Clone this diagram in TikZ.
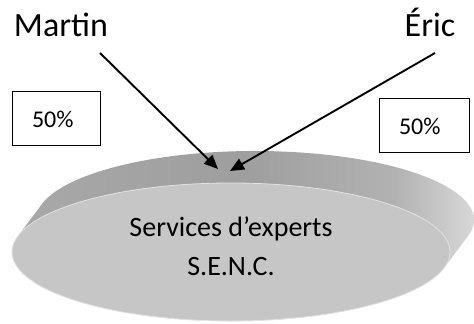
\documentclass[tikz,border=0pt]{standalone}
\usepackage{fontspec}
\setmainfont{Carlito}
\usetikzlibrary{positioning, arrows.meta, calc}
\usepackage{xcolor}
\definecolor{facegray}{HTML}{C6C6C6}
\definecolor{rimdark}{HTML}{9E9E9E}
\definecolor{rimleft}{HTML}{AAAAAA}
\definecolor{rimmid}{HTML}{B2B2B2}
\definecolor{rimright}{HTML}{E2E2E2}
\pgfdeclarehorizontalshading{rimshade}{100bp}{color(0bp)=(rimleft); color(25bp)=(rimleft); color(50bp)=(rimdark); color(65bp)=(rimmid); color(75bp)=(rimright); color(100bp)=(rimright)}

\begin{document}
\begin{tikzpicture}[
    x=1pt, y=1pt,
    every node/.style={font=\fontsize{28}{39}\selectfont},
    namelbl/.style={anchor=base, inner sep=0pt, font=\fontsize{34}{40}\selectfont},
    pctbox/.style={draw, line width=1pt, text width=48pt, align=left, inner xsep=20pt, minimum height=54pt, font=\fontsize{24}{28}\selectfont},
    face/.style={fill=facegray, draw=gray!22, line width=0.8pt},
    rim/.style={shading=rimshade},
    arr/.style={-{Triangle[length=14pt, width=12pt]}, line width=1.9pt},
]
\useasboundingbox (0,0) rectangle (474,324);

% Disc: rim behind, face in front
\coordinate (disc) at (231,72);
\coordinate (disctop) at ($(disc)+(24,32)$);
\shade[rim] (disctop) ++(-13.3:219 and 69)
    arc[start angle=-13.3, end angle=166.7, x radius=219, y radius=69]
    -- ++(-24,-32)
    arc[start angle=166.7, end angle=346.7, x radius=219, y radius=69] -- cycle;
\draw[face] (disc) ellipse[x radius=219, y radius=69];
\node[align=center, anchor=base, inner sep=0pt] (senc) at (231,48) {Services d’experts\\S.E.N.C.};

% Partners and shares
\node[namelbl] (martin) at (61,287) {Martin};
\node[namelbl] (eric) at (430,287) {Éric};
\node[pctbox, minimum width=88pt] (lpct) at (56,205) {50\%};
\node[pctbox, text width=50pt, minimum width=90pt] (rpct) at (424,198) {50\%};

% Arrows into the disc
\coordinate (mstart) at (100,271);
\coordinate (estart) at (435,271);
\coordinate (mend) at (218,155);
\coordinate (eend) at (230,153);
\draw[arr] (mstart) -- (mend);
\draw[arr] (estart) -- (eend);

\end{tikzpicture}
\end{document}
